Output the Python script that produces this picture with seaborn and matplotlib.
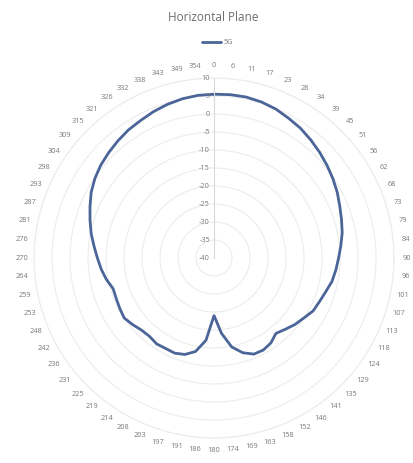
import numpy as np
import pandas as pd
import matplotlib
matplotlib.use("Agg")
import matplotlib.pyplot as plt
import matplotlib.transforms as mtransforms
import seaborn as sns

# Antenna pattern, horizontal plane, 5G band (dB), one value per category
angle_labels = ["0", "6", "11", "17", "23", "28", "34", "39", "45", "51", "56", "62",
                "68", "73", "79", "84", "90", "96", "101", "107", "113", "118", "124",
                "129", "135", "141", "146", "152", "158", "163", "169", "174", "180",
                "186", "191", "197", "203", "208", "214", "219", "225", "231", "236",
                "242", "248", "253", "259", "264", "270", "276", "281", "287", "293",
                "298", "304", "309", "315", "321", "326", "332", "338", "343", "349", "354"]

gain_5g = [5.5, 5.6, 5.6, 5.3, 4.8, 4.0, 3.3, 2.4, 1.5, 0.6, -0.3, -1.2,
           -2.2, -3.0, -3.7, -4.6, -5.4, -6.0, -6.6, -7.6, -8.3, -8.8, -10.0,
           -10.9, -12.0, -12.9, -11.6, -11.0, -11.1, -12.5, -14.8, -19.0, -24.0,
           -17.0, -13.5, -12.0, -11.4, -11.5, -11.3, -11.8, -11.6, -10.8, -10.0,
           -10.3, -10.6, -10.7, -9.5, -8.5, -7.6, -6.5, -5.2, -4.0, -2.7,
           -1.3, -0.2, 0.7, 1.4, 2.1, 2.8, 3.3, 4.0, 4.6, 5.1, 5.4]

radial_ticks = [10, 5, 0, -5, -10, -15, -20, -25, -30, -35, -40]

series_name = "5G"
title_text = "Horizontal Plane"

sns.set_theme(style="white")
plt.rcParams["font.family"] = ["Open Sans", "DejaVu Sans"]

n = len(angle_labels)
theta = np.arange(n) * 2 * np.pi / n
df = pd.DataFrame({
    "theta": np.append(theta, 2 * np.pi),
    "gain": np.append(gain_5g, gain_5g[0]),
})

fig = plt.figure(figsize=(4.14, 4.63), dpi=100)
ax = fig.add_axes([0.082, 0.054, 0.870, 0.7775], projection="polar")
ax.set_theta_zero_location("N")
ax.set_theta_direction(-1)

grid_color = "#ececec"
label_color = "#7a7a7a"

sns.lineplot(data=df, x="theta", y="gain", sort=False, ax=ax,
             color="#4b6598", linewidth=2.0, label=series_name, legend=False)

ax.set_ylim(min(radial_ticks), max(radial_ticks))
ax.set_yticks(radial_ticks)
ax.set_yticklabels([])
ax.set_xticks(theta)
ax.set_xticklabels(angle_labels, fontsize=5.3, color=label_color)
ax.tick_params(axis="x", pad=-4)
ax.xaxis.grid(False)
ax.yaxis.grid(True, color=grid_color, linewidth=0.8)
ax.spines["polar"].set_color(grid_color)
ax.spines["polar"].set_linewidth(0.8)
ax.set_xlabel("")
ax.set_ylabel("")

# vertical value axis with its labels just left of it
ax.plot([0, 0], [min(radial_ticks), max(radial_ticks)], color="#d9d9d9", linewidth=0.8)
shift = mtransforms.offset_copy(ax.transData, fig=fig, x=-3, y=0, units="points")
for v in radial_ticks:
    ax.text(0, v, str(v), transform=shift, ha="right", va="center",
            fontsize=5.3, color=label_color)

fig.text(0.515, 0.962, title_text, ha="center", va="center",
         fontsize=8.5, color="#6e6e6e")

handles, labels = ax.get_legend_handles_labels()
fig.legend(handles, labels, loc="center", bbox_to_anchor=(0.525, 0.908),
           frameon=False, fontsize=5.3, handlelength=2.6, handletextpad=0.3,
           labelcolor=label_color)

fig.savefig("out.png", dpi=100, facecolor="white")
